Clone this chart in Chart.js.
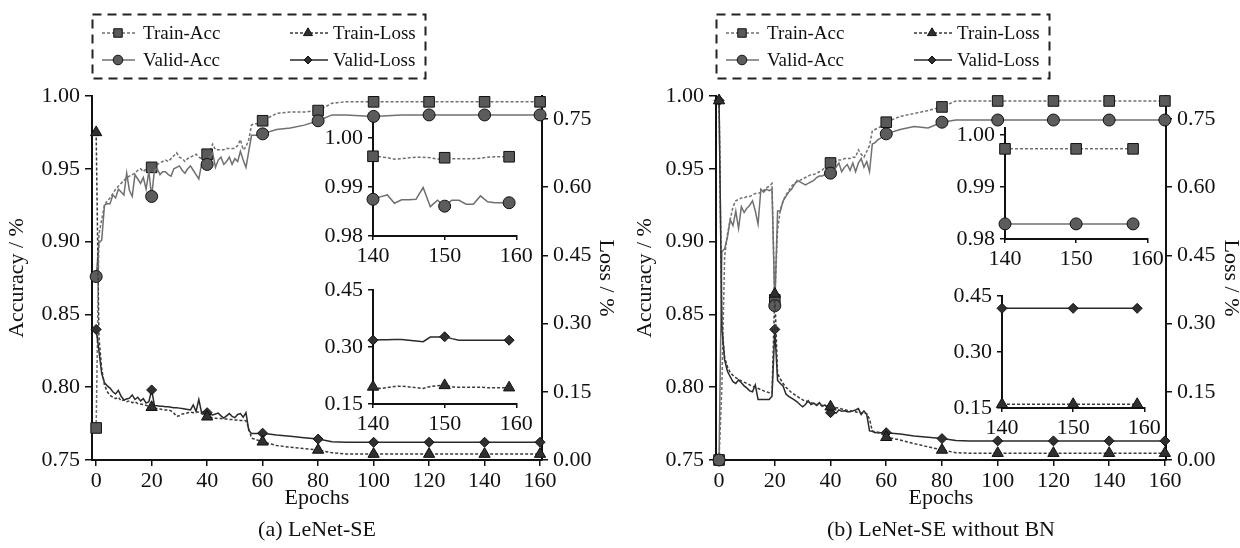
<!DOCTYPE html>
<html>
<head>
<meta charset="utf-8">
<script src="https://cdn.jsdelivr.net/npm/chart.js@4.4.1/dist/chart.umd.min.js"></script>
<style>
html, body { margin: 0; padding: 0; background: #fff; }
#page { position: relative; width: 1240px; height: 548px; overflow: hidden; background: #fff; }
#page canvas { position: absolute; }
</style>
</head>
<body>
<div id="page">
  <canvas id="mainA" width="620" height="548" style="left:0px;top:0px;width:620px;height:548px"></canvas>
  <canvas id="mainB" width="620" height="548" style="left:620px;top:0px;width:620px;height:548px"></canvas>
  <canvas id="accInsetA"></canvas>
  <canvas id="lossInsetA"></canvas>
  <canvas id="accInsetB"></canvas>
  <canvas id="lossInsetB"></canvas>
</div>
<script>
// ---------- data ----------
// epochs sampled for the full-run curves
const epochs = [
  0, 1, 2, 3, 4, 5, 6, 7, 8, 9,
  10, 11, 12, 13, 14, 15, 16, 17, 18, 19,
  20, 21, 22, 23, 24, 25, 26, 27, 28, 29,
  30, 31, 32, 33, 34, 35, 36, 37, 38, 39,
  40, 41, 42, 43, 44, 45, 46, 47, 48, 49,
  50, 51, 52, 53, 54, 55, 56, 57, 58, 59,
  60, 65, 70, 75, 80, 85, 90, 100, 110, 120, 130, 140, 150, 160
];
const markerEpochs = [0, 20, 40, 60, 80, 100, 120, 140, 160];
const epochTicks = [0, 20, 40, 60, 80, 100, 120, 140, 160];
const accTicks = [0.75, 0.80, 0.85, 0.90, 0.95, 1.00];
const lossTicks = [0.00, 0.15, 0.30, 0.45, 0.60, 0.75];

// (a) LeNet-SE
const trainAccA = [
  0.772, 0.905, 0.915, 0.925, 0.928, 0.930, 0.933, 0.936, 0.938, 0.940,
  0.942, 0.944, 0.945, 0.946, 0.947, 0.949, 0.950, 0.948, 0.950, 0.951,
  0.951, 0.952, 0.953, 0.954, 0.955, 0.956, 0.955, 0.957, 0.959, 0.961,
  0.958, 0.957, 0.955, 0.957, 0.958, 0.959, 0.960, 0.958, 0.957, 0.959,
  0.960, 0.962, 0.967, 0.963, 0.963, 0.963, 0.963, 0.964, 0.964, 0.964,
  0.964, 0.966, 0.970, 0.963, 0.965, 0.970, 0.980, 0.981, 0.981, 0.982,
  0.983, 0.988, 0.989, 0.989, 0.990, 0.995, 0.996, 0.996, 0.996, 0.996, 0.996, 0.996, 0.996, 0.996
];
const validAccA = [
  0.876, 0.899, 0.901, 0.925, 0.926, 0.926, 0.932, 0.930, 0.936, 0.934,
  0.932, 0.947, 0.935, 0.931, 0.946, 0.943, 0.940, 0.944, 0.936, 0.948,
  0.931, 0.949, 0.950, 0.946, 0.948, 0.948, 0.946, 0.945, 0.950, 0.951,
  0.952, 0.949, 0.947, 0.950, 0.952, 0.949, 0.946, 0.943, 0.953, 0.955,
  0.953, 0.958, 0.961, 0.951, 0.956, 0.958, 0.953, 0.955, 0.958, 0.953,
  0.957, 0.955, 0.962, 0.956, 0.951, 0.962, 0.973, 0.973, 0.973, 0.974,
  0.974, 0.977, 0.978, 0.980, 0.983, 0.987, 0.987, 0.986, 0.987, 0.987, 0.987, 0.987, 0.987, 0.987
];
const trainLossA = [
  0.720, 0.270, 0.200, 0.165, 0.150, 0.142, 0.138, 0.135, 0.138, 0.130,
  0.132, 0.128, 0.130, 0.126, 0.128, 0.124, 0.123, 0.122, 0.120, 0.118,
  0.116, 0.114, 0.113, 0.112, 0.111, 0.110, 0.110, 0.108, 0.103, 0.096,
  0.097, 0.101, 0.102, 0.104, 0.105, 0.104, 0.106, 0.105, 0.102, 0.098,
  0.095, 0.094, 0.093, 0.092, 0.091, 0.091, 0.090, 0.090, 0.089, 0.089,
  0.088, 0.088, 0.087, 0.087, 0.086, 0.070, 0.048, 0.046, 0.044, 0.042,
  0.040, 0.032, 0.028, 0.025, 0.022, 0.016, 0.013, 0.013, 0.013, 0.013, 0.013, 0.013, 0.013, 0.013
];
const validLossA = [
  0.287, 0.240, 0.190, 0.170, 0.163, 0.158, 0.150, 0.145, 0.153, 0.140,
  0.132, 0.134, 0.136, 0.143, 0.133, 0.138, 0.130, 0.135, 0.125, 0.128,
  0.154, 0.120, 0.119, 0.118, 0.118, 0.117, 0.117, 0.116, 0.115, 0.115,
  0.114, 0.113, 0.112, 0.111, 0.110, 0.121, 0.107, 0.133, 0.104, 0.107,
  0.104, 0.101, 0.099, 0.101, 0.103, 0.097, 0.092, 0.097, 0.102, 0.096,
  0.093, 0.100, 0.102, 0.094, 0.104, 0.065, 0.058, 0.058, 0.058, 0.058,
  0.059, 0.055, 0.052, 0.049, 0.046, 0.040, 0.039, 0.039, 0.039, 0.039, 0.039, 0.039, 0.039, 0.039
];

// (b) LeNet-SE without BN
const trainAccB = [
  0.750, 0.800, 0.890, 0.905, 0.915, 0.924, 0.928, 0.929, 0.930, 0.930,
  0.931, 0.931, 0.932, 0.933, 0.933, 0.934, 0.935, 0.937, 0.938, 0.940,
  0.860, 0.908, 0.922, 0.928, 0.932, 0.935, 0.938, 0.940, 0.941, 0.942,
  0.943, 0.944, 0.945, 0.946, 0.946, 0.947, 0.948, 0.949, 0.951, 0.952,
  0.954, 0.955, 0.955, 0.956, 0.956, 0.957, 0.957, 0.957, 0.958, 0.958,
  0.963, 0.960, 0.958, 0.962, 0.966, 0.976, 0.977, 0.978, 0.979, 0.980,
  0.982, 0.986, 0.988, 0.990, 0.9925, 0.9966, 0.9966, 0.9966, 0.9966, 0.9966, 0.9966, 0.9966, 0.9966, 0.9966
];
const validAccB = [
  0.750, 0.893, 0.895, 0.903, 0.915, 0.911, 0.921, 0.909, 0.924, 0.920,
  0.923, 0.925, 0.928, 0.921, 0.912, 0.936, 0.934, 0.936, 0.935, 0.936,
  0.856, 0.921, 0.921, 0.928, 0.931, 0.934, 0.936, 0.939, 0.942, 0.941,
  0.940, 0.939, 0.940, 0.941, 0.942, 0.944, 0.945, 0.945, 0.946, 0.946,
  0.947, 0.949, 0.951, 0.954, 0.948, 0.951, 0.953, 0.949, 0.954, 0.948,
  0.954, 0.957, 0.951, 0.955, 0.948, 0.967, 0.968, 0.970, 0.971, 0.973,
  0.974, 0.977, 0.979, 0.978, 0.982, 0.9835, 0.9835, 0.9835, 0.9835, 0.9835, 0.9835, 0.9835, 0.9835, 0.9835
];
const trainLossB = [
  0.790, 0.300, 0.225, 0.205, 0.192, 0.186, 0.181, 0.177, 0.174, 0.171,
  0.168, 0.165, 0.162, 0.159, 0.157, 0.155, 0.152, 0.150, 0.148, 0.147,
  0.365, 0.190, 0.178, 0.168, 0.160, 0.154, 0.148, 0.144, 0.140, 0.136,
  0.132, 0.130, 0.128, 0.126, 0.124, 0.122, 0.121, 0.120, 0.119, 0.118,
  0.117, 0.116, 0.115, 0.114, 0.112, 0.111, 0.109, 0.108, 0.107, 0.106,
  0.104, 0.104, 0.103, 0.102, 0.090, 0.064, 0.062, 0.060, 0.058, 0.055,
  0.050, 0.044, 0.036, 0.029, 0.022, 0.016, 0.015, 0.015, 0.015, 0.015, 0.015, 0.015, 0.015, 0.015
];
const validLossB = [
  0.790, 0.290, 0.220, 0.195, 0.183, 0.172, 0.168, 0.176, 0.170, 0.163,
  0.158, 0.152, 0.150, 0.165, 0.133, 0.133, 0.133, 0.133, 0.133, 0.140,
  0.287, 0.175, 0.168, 0.162, 0.145, 0.140, 0.136, 0.132, 0.128, 0.122,
  0.117, 0.122, 0.130, 0.122, 0.125, 0.120, 0.126, 0.118, 0.121, 0.114,
  0.104, 0.106, 0.103, 0.110, 0.107, 0.108, 0.106, 0.106, 0.108, 0.110,
  0.113, 0.100, 0.108, 0.100, 0.064, 0.063, 0.060, 0.061, 0.060, 0.060,
  0.060, 0.057, 0.053, 0.050, 0.047, 0.043, 0.042, 0.042, 0.042, 0.042, 0.042, 0.042, 0.042, 0.042
];

// close-ups of the last epochs
const insetEpochTicks = [140, 150, 160];
const insetAccTicks = [0.98, 0.99, 1.00];
const insetLossTicks = [0.15, 0.30, 0.45];

const insetEpochsA = [140, 141, 142, 143, 144, 145, 146, 147, 148, 149,
                      150, 151, 152, 153, 154, 155, 156, 157, 158, 159];
const insetMarkersA = [140, 150, 159];
const insetTrainAccA = [0.9963, 0.9962, 0.9960, 0.9957, 0.9958, 0.9960, 0.9961, 0.9961, 0.9960, 0.9957,
                        0.9960, 0.9958, 0.9958, 0.9958, 0.9958, 0.9959, 0.9961, 0.9962, 0.9962, 0.9962];
const insetValidAccA = [0.9875, 0.9880, 0.9884, 0.9867, 0.9874, 0.9874, 0.9875, 0.9899, 0.9860, 0.9873,
                        0.9861, 0.9873, 0.9873, 0.9865, 0.9865, 0.9882, 0.9870, 0.9868, 0.9868, 0.9868];
const insetTrainLossA = [0.195, 0.191, 0.193, 0.196, 0.197, 0.195, 0.193, 0.191, 0.196, 0.198,
                         0.199, 0.195, 0.194, 0.194, 0.194, 0.194, 0.193, 0.193, 0.193, 0.193];
const insetValidLossA = [0.318, 0.319, 0.319, 0.320, 0.320, 0.318, 0.316, 0.314, 0.326, 0.326,
                         0.327, 0.322, 0.318, 0.318, 0.318, 0.318, 0.318, 0.318, 0.318, 0.318];

const insetAccEpochsB = [140, 150, 158];
const insetTrainAccB = [0.9973, 0.9973, 0.9973];
const insetValidAccB = [0.9829, 0.9829, 0.9829];
const insetLossEpochsB = [140, 150, 159];
const insetTrainLossB = [0.160, 0.160, 0.160];
const insetValidLossB = [0.417, 0.417, 0.417];

// ---------- styling ----------
const SERIF = "'Liberation Serif', 'Times New Roman', serif";
Chart.defaults.font.family = SERIF;
Chart.defaults.font.size = 22;
Chart.defaults.color = '#111';

const STYLE = {
  trainAcc:  { label: 'Train-Acc',  color: '#707070', dash: [3, 2], point: 'rect',     radius: 7.5, fill: '#595959', order: 4 },
  validAcc:  { label: 'Valid-Acc',  color: '#707070', dash: [],     point: 'circle',   radius: 6,   fill: '#5c5c5c', order: 3 },
  trainLoss: { label: 'Train-Loss', color: '#3a3a3a', dash: [3, 2], point: 'triangle', radius: 6.5, fill: '#303030', order: 1 },
  validLoss: { label: 'Valid-Loss', color: '#2a2a2a', dash: [],     point: 'rectRot',  radius: 5,   fill: '#303030', order: 2 }
};

function series(key, xs, ys, axisId, marks) {
  const s = STYLE[key];
  const markSet = new Set(marks);
  return {
    label: s.label,
    data: xs.map((x, i) => ({ x: x, y: ys[i] })),
    yAxisID: axisId,
    borderColor: s.color,
    borderWidth: 1.5,
    borderDash: s.dash,
    pointStyle: s.point,
    pointBackgroundColor: s.fill,
    pointBorderColor: '#111',
    pointBorderWidth: 1,
    pointRadius: c => (c.raw && markSet.has(c.raw.x)) ? s.radius : 0,
    pointHoverRadius: 0,
    tension: 0,
    fill: false,
    clip: false,
    order: s.order
  };
}

function fixedTicks(values) {
  return scale => { scale.ticks = values.map(v => ({ value: v })); };
}

function axisLook(tickLength) {
  return {
    grid: { display: true, drawOnChartArea: false, drawTicks: true, tickLength: tickLength, color: '#111', lineWidth: 1.5 },
    border: { display: true, color: '#111', width: 2 }
  };
}

// 2 x 2 legend in a dashed frame above the plot area
const legendBox = {
  id: 'legendBox',
  afterDraw(chart) {
    const ctx = chart.ctx;
    const L = chart.chartArea.left;
    const cols = [{ a: 10, b: 43, m: 26, t: 51 }, { a: 198, b: 236, m: 216, t: 241 }];
    const rows = [33, 60];
    const slots = [[0, 0], [0, 1], [1, 0], [1, 1]];
    ctx.save();
    ctx.setLineDash([9, 6]);
    ctx.lineWidth = 2;
    ctx.strokeStyle = '#222';
    ctx.strokeRect(L + 0.5, 14.5, 333, 64);
    chart.data.datasets.forEach((ds, i) => {
      const c = cols[slots[i][0]];
      const y = rows[slots[i][1]];
      const key = Object.keys(STYLE).find(k => STYLE[k].label === ds.label);
      const s = STYLE[key];
      ctx.setLineDash(ds.borderDash);
      ctx.lineWidth = ds.borderWidth;
      ctx.strokeStyle = ds.borderColor;
      ctx.beginPath();
      ctx.moveTo(L + c.a, y);
      ctx.lineTo(L + c.b, y);
      ctx.stroke();
      ctx.setLineDash([]);
      ctx.fillStyle = ds.pointBackgroundColor;
      ctx.strokeStyle = ds.pointBorderColor;
      ctx.lineWidth = 1;
      Chart.helpers.drawPoint(ctx, { pointStyle: ds.pointStyle, radius: s.radius * 0.8, rotation: 0, borderWidth: 1 }, L + c.m, y);
      ctx.fillStyle = '#111';
      ctx.font = '19px ' + SERIF;
      ctx.textBaseline = 'middle';
      ctx.textAlign = 'left';
      ctx.fillText(ds.label, L + c.t, y + 1);
    });
    ctx.restore();
  }
};

function mainPanel(canvasId, d, p) {
  return new Chart(document.getElementById(canvasId), {
    type: 'line',
    data: {
      datasets: [
        series('trainAcc', epochs, d.trainAcc, 'y', markerEpochs),
        series('validAcc', epochs, d.validAcc, 'y', markerEpochs),
        series('trainLoss', epochs, d.trainLoss, 'y1', markerEpochs),
        series('validLoss', epochs, d.validLoss, 'y1', markerEpochs)
      ]
    },
    options: {
      responsive: false,
      animation: false,
      devicePixelRatio: 1,
      events: [],
      layout: { padding: { top: 96, left: 0, right: 0, bottom: 0 } },
      plugins: {
        legend: { display: false },
        tooltip: { enabled: false },
        title: {
          display: true, text: p.caption, position: 'bottom', fullSize: false, color: '#111',
          font: { size: 22, weight: 'normal', lineHeight: 1.2 }, padding: { top: 0, bottom: 5 }
        }
      },
      scales: {
        x: Object.assign({
          type: 'linear', min: p.xMin, max: p.xMax,
          afterBuildTicks: fixedTicks(epochTicks),
          afterFit: s => { s.height = 56.6; },
          ticks: { autoSkip: false, maxRotation: 0, padding: 2, color: '#111', callback: v => String(v) },
          title: { display: true, text: 'Epochs', color: '#111', font: { size: 22 }, padding: { top: 0, bottom: 5.4 } }
        }, axisLook(6)),
        y: Object.assign({
          type: 'linear', position: 'left', min: 0.75, max: 1.0,
          afterBuildTicks: fixedTicks(accTicks),
          afterFit: s => { s.width = p.leftWidth; },
          ticks: { autoSkip: false, padding: 5, color: '#111', callback: v => v.toFixed(2) },
          title: { display: true, text: 'Accuracy / %', color: '#111', font: { size: 22, lineHeight: 0.8 }, padding: { top: p.leftTitlePad, bottom: 0 } }
        }, axisLook(7)),
        y1: Object.assign({
          type: 'linear', position: 'right', min: 0, max: 0.8,
          afterBuildTicks: fixedTicks(lossTicks),
          afterFit: s => { s.width = p.rightWidth; },
          ticks: { autoSkip: false, padding: 5, color: '#111', callback: v => v.toFixed(2) },
          title: { display: true, text: 'Loss / %', color: '#111', font: { size: 22, lineHeight: 0.8 }, padding: { top: p.rightTitlePad, bottom: 0 } }
        }, axisLook(6))
      }
    },
    plugins: [legendBox]
  });
}

// close-up panel placed over the main plot; area = plot rectangle in page pixels
function insetPanel(canvasId, area, sets, yMin, yMax, yTicks) {
  const padL = 70, padR = 30, padT = 20, axisH = 40;
  const cv = document.getElementById(canvasId);
  const w = padL + area.w + padR, h = padT + area.h + axisH;
  cv.width = w; cv.height = h;
  cv.style.left = (area.x - padL) + 'px';
  cv.style.top = (area.y - padT) + 'px';
  cv.style.width = w + 'px';
  cv.style.height = h + 'px';
  return new Chart(cv, {
    type: 'line',
    data: { datasets: sets },
    options: {
      responsive: false,
      animation: false,
      devicePixelRatio: 1,
      events: [],
      layout: { padding: { top: padT, left: 0, right: padR, bottom: 0 } },
      plugins: { legend: { display: false }, tooltip: { enabled: false }, title: { display: false } },
      scales: {
        x: Object.assign({
          type: 'linear', min: 140, max: 160.1,
          afterBuildTicks: fixedTicks(insetEpochTicks),
          afterFit: s => { s.height = axisH; },
          ticks: { autoSkip: false, maxRotation: 0, padding: 3, color: '#111', callback: v => String(v) }
        }, axisLook(4)),
        y: Object.assign({
          type: 'linear', position: 'left', min: yMin, max: yMax,
          afterBuildTicks: fixedTicks(yTicks),
          afterFit: s => { s.width = padL; },
          ticks: { autoSkip: false, padding: 5, color: '#111', callback: v => v.toFixed(2) }
        }, axisLook(5))
      }
    }
  });
}

mainPanel('mainA',
  { trainAcc: trainAccA, validAcc: validAccA, trainLoss: trainLossA, validLoss: validLossA },
  { caption: '(a) LeNet-SE', xMin: -1.5, xMax: 160.7, leftWidth: 92, rightWidth: 78, leftTitlePad: 8.7, rightTitlePad: 5.2 });

mainPanel('mainB',
  { trainAcc: trainAccB, validAcc: validAccB, trainLoss: trainLossB, validLoss: validLossB },
  { caption: '(b) LeNet-SE without BN', xMin: -1.1, xMax: 160.4, leftWidth: 96, rightWidth: 74, leftTitlePad: 16.2, rightTitlePad: 0 });

insetPanel('accInsetA', { x: 373, y: 123, w: 144, h: 113 }, [
  series('trainAcc', insetEpochsA, insetTrainAccA, 'y', insetMarkersA),
  series('validAcc', insetEpochsA, insetValidAccA, 'y', insetMarkersA)
], 0.98, 1.0031, insetAccTicks);

insetPanel('lossInsetA', { x: 373, y: 290, w: 144, h: 114 }, [
  series('trainLoss', insetEpochsA, insetTrainLossA, 'y', insetMarkersA),
  series('validLoss', insetEpochsA, insetValidLossA, 'y', insetMarkersA)
], 0.15, 0.45, insetLossTicks);

insetPanel('accInsetB', { x: 1005, y: 128, w: 143, h: 111 }, [
  series('trainAcc', insetAccEpochsB, insetTrainAccB, 'y', insetAccEpochsB),
  series('validAcc', insetAccEpochsB, insetValidAccB, 'y', insetAccEpochsB)
], 0.98, 1.0013, insetAccTicks);

insetPanel('lossInsetB', { x: 1002, y: 296, w: 143, h: 112 }, [
  series('trainLoss', insetLossEpochsB, insetTrainLossB, 'y', insetLossEpochsB),
  series('validLoss', insetLossEpochsB, insetValidLossB, 'y', insetLossEpochsB)
], 0.15, 0.45, insetLossTicks);
</script>
</body>
</html>
